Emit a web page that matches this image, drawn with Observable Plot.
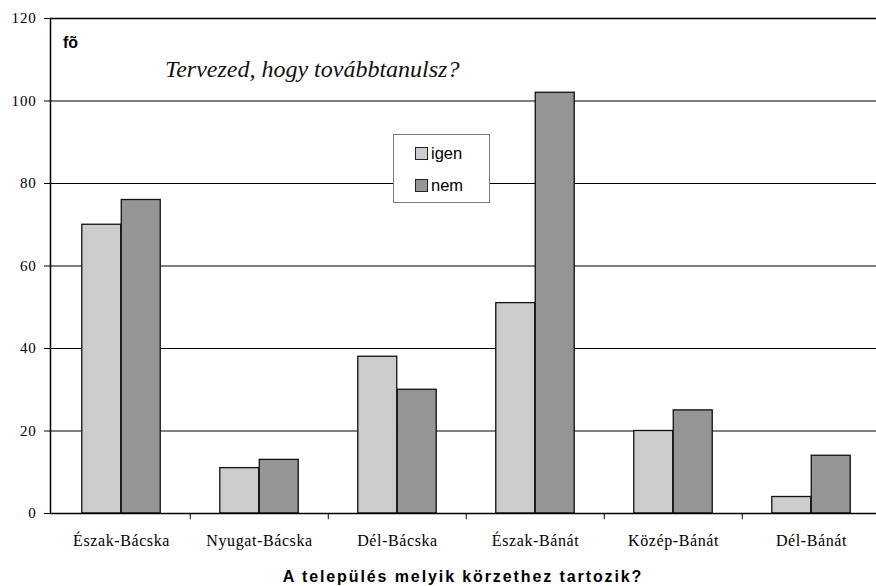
<!DOCTYPE html>
<html><head><meta charset="utf-8">
<script src="https://cdn.jsdelivr.net/npm/d3@7"></script>
<script src="https://cdn.jsdelivr.net/npm/@observablehq/plot@0.6"></script>
<style>
html,body{margin:0;padding:0;background:#fff;overflow:hidden;}
#wrap{position:relative;width:876px;height:586px;overflow:hidden;}
#wrap svg{position:absolute;left:0;top:0;overflow:visible;}
#wrap svg g[aria-label="x-axis tick label"] text{letter-spacing:0.6px;}
#wrap svg g[aria-label="y-axis tick label"] text{letter-spacing:0.8px;}
.ov{position:absolute;white-space:nowrap;line-height:1;color:#000;}
#unit{left:63px;top:34px;font:bold 16px "Liberation Sans",Arial,sans-serif;}
#title{left:165px;top:56px;font:italic 24px "Liberation Serif","Times New Roman",serif;color:#111;}
#xtitle{left:50px;width:826px;text-align:center;top:568px;font:bold 16px "Liberation Sans",Arial,sans-serif;letter-spacing:1.9px;}
#legend{left:393px;top:134px;width:95px;height:67px;border:1px solid #7a7a7a;background:#fff;}
.lrow{position:absolute;left:21px;height:20px;display:flex;align-items:center;font:16.5px "Liberation Sans",Arial,sans-serif;}
.sw{width:11px;height:11px;border:1.5px solid #222;margin-right:3px;}
</style></head><body><div id="wrap"></div>
<script>
const categories = ["Észak-Bácska","Nyugat-Bácska","Dél-Bácska","Észak-Bánát","Közép-Bánát","Dél-Bánát"];
const series = ["igen","nem"];
const igenValues = [70,11,38,51,20,4];
const nemValues = [76,13,30,102,25,14];
const yTicks = [0,20,40,60,80,100,120];
const titleText = "Tervezed, hogy továbbtanulsz?";
const unitText = "fõ";
const xTitleText = "A település melyik körzethez tartozik?";
const seriesColors = ["#cccccc","#959595"];

const rows = categories.flatMap((c,i)=>[
  {category:c, series:"igen", value:igenValues[i]},
  {category:c, series:"nem", value:nemValues[i]}
]);

const W = 876, H = 586, ML = 50, MR = -5, MT = 18, MB = 73;
const step = (W - ML - MR) / categories.length;
const barW = step * 0.285;
const outer = (step - 2*barW) / 2;
const serif = "'Liberation Serif','Times New Roman',serif";

const chart = Plot.plot({
  width: W, height: H,
  marginLeft: ML, marginRight: MR, marginTop: MT, marginBottom: MB,
  style: {background:"transparent"},
  x: {domain: categories, padding: 0, axis: null},
  y: {domain: [0,120], ticks: yTicks, axis: null},
  color: {domain: series, range: seriesColors},
  marks: [
    Plot.ruleY(yTicks.filter(v => v > 0 && v < 120), {stroke:"#000", strokeWidth:1}),
    Plot.barY(rows.filter(d=>d.series==="igen"), {x:"category", y:"value", fill:"series", stroke:"#111", strokeWidth:1.3, insetLeft: outer, insetRight: step - outer - barW}),
    Plot.barY(rows.filter(d=>d.series==="nem"), {x:"category", y:"value", fill:"series", stroke:"#111", strokeWidth:1.3, insetLeft: outer + barW, insetRight: outer}),
    Plot.frame({stroke:"#000", strokeWidth:1.5}),
    Plot.ruleX(categories.slice(1), {x: d => d, y1: 0, y2: -1.5, dx: -step/2, stroke:"#000", strokeWidth:1, clip: false}),
    Plot.axisY({ticks: yTicks, tickSize: 6, tickPadding: 8, fontSize: 15, fontFamily: serif, stroke:"#000", label: null}),
    Plot.axisX({tickSize: 0, tickPadding: 21, fontSize: 16, fontFamily: serif, label: null})
  ]
});

const wrap = document.getElementById("wrap");
wrap.appendChild(chart);
function ov(id, text){ const d=document.createElement("div"); d.className="ov"; d.id=id; d.textContent=text; wrap.appendChild(d); return d; }
ov("unit", unitText);
ov("title", titleText);
ov("xtitle", xTitleText);
const leg = document.createElement("div"); leg.className="ov"; leg.id="legend"; wrap.appendChild(leg);
series.forEach((s,i)=>{
  const r=document.createElement("div"); r.className="lrow"; r.style.top=(8+i*32)+"px";
  const sw=document.createElement("div"); sw.className="sw"; sw.style.background=seriesColors[i];
  const t=document.createElement("span"); t.textContent=s;
  r.appendChild(sw); r.appendChild(t); leg.appendChild(r);
});
</script></body></html>
